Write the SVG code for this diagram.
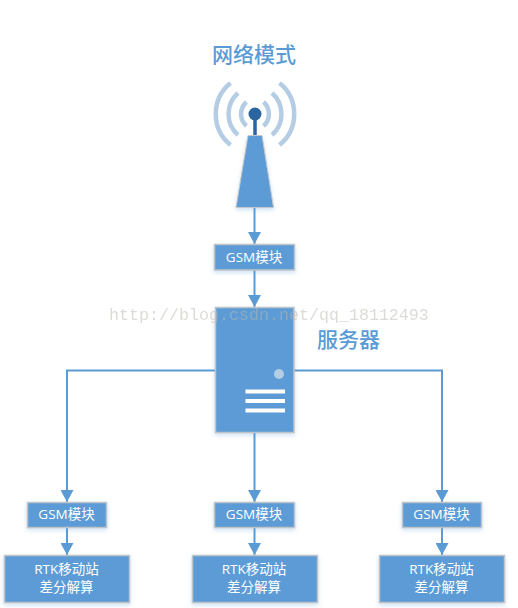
<svg xmlns="http://www.w3.org/2000/svg" width="518" height="608" viewBox="0 0 518 608">
<style>
.box{fill:#5b9bd5;stroke:#bfc4c9;stroke-width:1.5;filter:url(#sh)}
.t{font-family:"Open Sans","Noto Sans CJK SC",sans-serif;font-size:13.500px;fill:#fff;text-anchor:middle}
.h{font-family:"Noto Sans CJK SC",sans-serif;font-size:21px;font-weight:500;fill:#5b9bd5;text-anchor:middle}
.c{fill:none;stroke:#5b9bd5;stroke-width:2}
.a{fill:none;stroke:#b4cde4;stroke-width:4.500}
.w{font-family:"Liberation Mono",monospace;font-size:16.67px;fill:#b9b9ae;opacity:.5}
</style>
<defs>
<filter id="sh" x="-20%" y="-20%" width="140%" height="150%"><feDropShadow dx="0" dy="2" stdDeviation="2" flood-color="#5b9bd5" flood-opacity=".3"/></filter>
<marker id="ah" markerUnits="userSpaceOnUse" markerWidth="13" markerHeight="13" refX="12" refY="6.500" orient="auto"><path d="M0 0L12 6.500L0 13Z" fill="#5b9bd5"/></marker>
</defs>
<g id="connectors">
<path class="c" d="M254.500 207V244" marker-end="url(#ah)"/>
<path class="c" d="M254.500 270V307" marker-end="url(#ah)"/>
<path class="c" d="M254.500 432V502" marker-end="url(#ah)"/>
<path class="c" d="M215 370.500H67V502" marker-end="url(#ah)"/>
<path class="c" d="M294 370.500H442V502" marker-end="url(#ah)"/>
<path class="c" d="M67 527V555" marker-end="url(#ah)"/>
<path class="c" d="M254.500 527V555" marker-end="url(#ah)"/>
<path class="c" d="M442 527V555" marker-end="url(#ah)"/>
</g>
<g id="antenna">
<path class="a" d="M230.500 83A40 40 0 0 0 230.500 145"/>
<path class="a" d="M238 93A28 28 0 0 0 238 135"/>
<path class="a" d="M246.500 102A16 16 0 0 0 246.500 126"/>
<path class="a" d="M279.500 83A40 40 0 0 1 279.500 145"/>
<path class="a" d="M272 93A28 28 0 0 1 272 135"/>
<path class="a" d="M263.500 102A16 16 0 0 1 263.500 126"/>
<path d="M255 116V136" stroke="#2a659f" stroke-width="3.500"/>
<circle cx="255" cy="114" r="6.500" fill="#2a659f"/>
<path d="M248 135.500H262L273.500 207.500H236Z" fill="#5b9bd5" stroke="#c4c8cc" filter="url(#sh)"/>
</g>
<text id="title" class="h" x="254" y="62">网络模式</text>
<g id="gsm-top"><rect class="box" x="214.500" y="244.500" width="80" height="25.500"/><text class="t" x="254" y="262">GSM模块</text></g>
<g id="server">
<rect class="box" x="215.500" y="307.500" width="78.500" height="125"/>
<circle cx="279" cy="374" r="5" fill="#b4cde4"/>
<rect x="245.500" y="389.500" width="39.500" height="4" fill="#fff"/>
<rect x="245.500" y="399" width="39.500" height="4" fill="#fff"/>
<rect x="245.500" y="408.500" width="39.500" height="4" fill="#fff"/>
</g>
<text id="server-label" class="h" x="348.500" y="347">服务器</text>
<g id="gsm-left"><rect class="box" x="27.500" y="502.500" width="79" height="25"/><text class="t" x="66.500" y="519">GSM模块</text></g>
<g id="gsm-mid"><rect class="box" x="214.500" y="502.500" width="80" height="25"/><text class="t" x="254" y="519">GSM模块</text></g>
<g id="gsm-right"><rect class="box" x="402.500" y="502.500" width="79" height="25"/><text class="t" x="441.500" y="519">GSM模块</text></g>
<g id="rtk-left"><rect class="box" x="4.500" y="555.500" width="125" height="47"/><text class="t" x="66.500" y="574">RTK移动站</text><text class="t" x="66.500" y="592">差分解算</text></g>
<g id="rtk-mid"><rect class="box" x="192.500" y="555.500" width="125" height="47"/><text class="t" x="254" y="574">RTK移动站</text><text class="t" x="254" y="592">差分解算</text></g>
<g id="rtk-right"><rect class="box" x="379.500" y="555.500" width="125" height="47"/><text class="t" x="441.500" y="574">RTK移动站</text><text class="t" x="441.500" y="592">差分解算</text></g>
<text id="watermark" class="w" x="109" y="320">http://blog.csdn.net/qq_18112493</text>
</svg>
